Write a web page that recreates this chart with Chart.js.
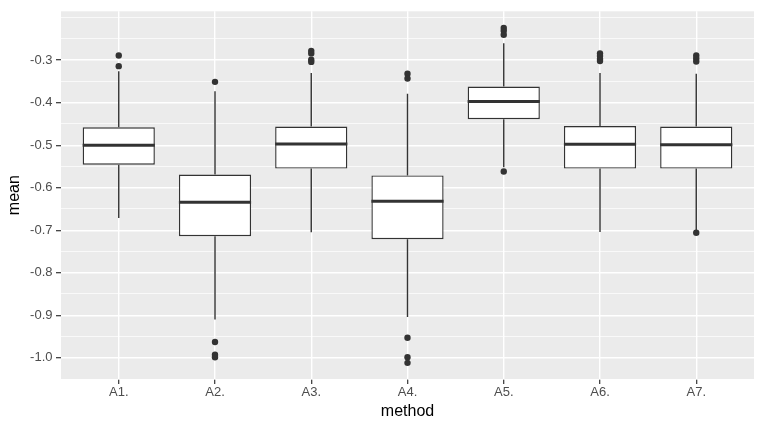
<!DOCTYPE html>
<html>
<head>
<meta charset="utf-8">
<script src="https://cdn.jsdelivr.net/npm/chart.js@4.4.1/dist/chart.umd.min.js"></script>
<style>
  html, body { margin: 0; padding: 0; background: #ffffff; }
  #wrap { width: 763px; height: 430px; }
</style>
</head>
<body>
<div id="wrap"><canvas id="c" width="763" height="430"></canvas></div>
<script>
// ---- data ----
const categories = ['A1.', 'A2.', 'A3.', 'A4.', 'A5.', 'A6.', 'A7.'];
const q1Values      = [-0.546, -0.714, -0.555, -0.721, -0.439, -0.555, -0.555];
const medianValues  = [-0.500, -0.634, -0.497, -0.632, -0.397, -0.498, -0.499];
const q3Values      = [-0.458, -0.569, -0.456, -0.571, -0.362, -0.455, -0.456];
const whiskerLow    = [-0.671, -0.910, -0.705, -0.904, -0.552, -0.704, -0.700];
const whiskerHigh   = [-0.326, -0.373, -0.330, -0.379, -0.260, -0.330, -0.332];
const outliersA1 = [-0.289, -0.314];
const outliersA2 = [-0.351, -0.963, -0.993, -0.999];
const outliersA3 = [-0.278, -0.284, -0.299, -0.304];
const outliersA4 = [-0.332, -0.343, -0.953, -0.999, -1.012];
const outliersA5 = [-0.224, -0.231, -0.240, -0.562];
const outliersA6 = [-0.284, -0.290, -0.297, -0.302];
const outliersA7 = [-0.289, -0.296, -0.303, -0.706];
const yTickValues = [-1.0, -0.9, -0.8, -0.7, -0.6, -0.5, -0.4, -0.3];
const yMinorValues = [-1.05, -0.95, -0.85, -0.75, -0.65, -0.55, -0.45, -0.35, -0.25, -0.2];

const outlierLists = [outliersA1, outliersA2, outliersA3, outliersA4, outliersA5, outliersA6, outliersA7];

const boxData = categories.map((c, i) => ({ x: i + 1, y: [q1Values[i], q3Values[i]] }));
const outlierData = [];
outlierLists.forEach((list, i) => list.forEach(v => outlierData.push({ x: i + 1, y: v })));

const INK = '#333333';
const FONT = "'Liberation Sans', Arial, sans-serif";

const isMajor = v => yTickValues.some(t => Math.abs(t - v) < 1e-9);

const boxPlugin = {
  id: 'boxparts',
  beforeDraw(chart) {
    const { ctx, chartArea: a } = chart;
    ctx.save();
    ctx.fillStyle = '#ffffff';
    ctx.fillRect(0, 0, chart.width, chart.height);
    ctx.fillStyle = '#EBEBEB';
    ctx.fillRect(a.left, a.top, a.right - a.left, a.bottom - a.top);
    ctx.restore();
  },
  beforeDatasetsDraw(chart) {
    const { ctx, scales } = chart;
    const xs = scales.x, ys = scales.y;
    ctx.save();
    ctx.strokeStyle = INK;
    ctx.lineWidth = 1.4;
    categories.forEach((c, i) => {
      const px = xs.getPixelForValue(i + 1);
      ctx.beginPath();
      ctx.moveTo(px, ys.getPixelForValue(whiskerLow[i]));
      ctx.lineTo(px, ys.getPixelForValue(q1Values[i]));
      ctx.moveTo(px, ys.getPixelForValue(q3Values[i]));
      ctx.lineTo(px, ys.getPixelForValue(whiskerHigh[i]));
      ctx.stroke();
    });
    ctx.restore();
  },
  afterDatasetsDraw(chart) {
    const { ctx, scales } = chart;
    const ys = scales.y;
    const meta = chart.getDatasetMeta(0);
    ctx.save();
    ctx.strokeStyle = INK;
    ctx.lineWidth = 3;
    meta.data.forEach((bar, i) => {
      const py = ys.getPixelForValue(medianValues[i]);
      ctx.beginPath();
      ctx.moveTo(bar.x - bar.width / 2, py);
      ctx.lineTo(bar.x + bar.width / 2, py);
      ctx.stroke();
    });
    ctx.restore();
  }
};

new Chart(document.getElementById('c'), {
  type: 'bar',
  data: {
    datasets: [
      {
        type: 'bar',
        data: boxData,
        backgroundColor: '#ffffff',
        borderColor: INK,
        borderWidth: 1.4,
        borderSkipped: false,
        barPercentage: 0.75,
        categoryPercentage: 1.0
      },
      {
        type: 'scatter',
        data: outlierData,
        pointRadius: 3.2,
        pointBackgroundColor: INK,
        pointBorderWidth: 0,
        showLine: false
      }
    ]
  },
  options: {
    responsive: false,
    animation: false,
    devicePixelRatio: 1,
    layout: { padding: { top: 9, right: 9, left: 0, bottom: 0 } },
    plugins: { legend: { display: false }, tooltip: { enabled: false } },
    scales: {
      x: {
        type: 'linear',
        offset: false,
        min: 0.4,
        max: 7.6,
        afterBuildTicks: s => { s.ticks = categories.map((c, i) => ({ value: i + 1 })); },
        afterFit: s => { s.height = 51; },
        ticks: {
          autoSkip: false,
          maxRotation: 0,
          padding: 1,
          color: '#4D4D4D',
          font: { family: FONT, size: 13 },
          callback: v => categories[Math.round(v) - 1] || ''
        },
        grid: { offset: false, color: '#ffffff', lineWidth: 1.4, tickColor: INK, tickLength: 5, tickWidth: 1.2 },
        border: { display: false },
        title: { display: true, text: 'method', color: '#000000', font: { family: FONT, size: 16 }, padding: { top: 0, bottom: 8.7 } }
      },
      y: {
        type: 'linear',
        min: -1.05,
        max: -0.185,
        afterBuildTicks: s => {
          const vals = yTickValues.concat(yMinorValues).sort((a, b) => a - b);
          s.ticks = vals.map(v => ({ value: v }));
        },
        afterFit: s => { s.width = 61; },
        ticks: {
          autoSkip: false,
          padding: 3.5,
          color: '#4D4D4D',
          font: { family: FONT, size: 13 },
          callback: v => isMajor(v) ? v.toFixed(1) : ''
        },
        grid: {
          color: '#ffffff',
          lineWidth: c => (c.tick && isMajor(c.tick.value)) ? 1.4 : 0.7,
          tickColor: c => (c.tick && isMajor(c.tick.value)) ? INK : 'rgba(0,0,0,0)',
          tickLength: 5,
          tickWidth: 1.2
        },
        border: { display: false },
        title: { display: true, text: 'mean', color: '#000000', font: { family: FONT, size: 16 }, padding: { top: 4.5, bottom: 0 } }
      }
    }
  },
  plugins: [boxPlugin]
});
</script>
</body>
</html>
